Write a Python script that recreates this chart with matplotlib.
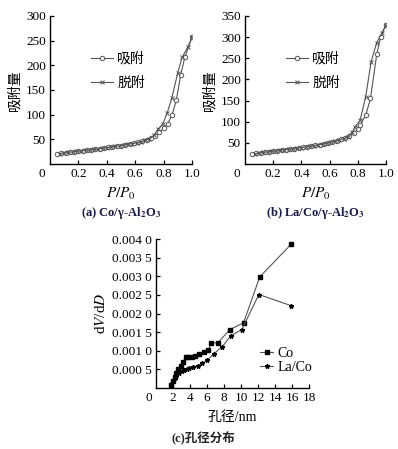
import matplotlib as mpl
mpl.use('Agg')
import matplotlib.pyplot as plt

plt.rcParams['font.family'] = ['Liberation Serif', 'Noto Sans CJK SC', 'DejaVu Sans']
plt.rcParams['mathtext.fontset'] = 'stix'

# (a) Co/γ-Al2O3 isotherm
a_ads_x = [0.05, 0.08, 0.11, 0.14, 0.17, 0.20, 0.23, 0.26, 0.29, 0.32, 0.35, 0.38, 0.41, 0.44, 0.47, 0.50,
           0.53, 0.56, 0.59, 0.62, 0.65, 0.68, 0.71, 0.74, 0.77, 0.80, 0.83, 0.86, 0.89, 0.92, 0.95, 1.0]
a_ads_y = [20, 22, 23, 24, 25, 26, 27, 28, 29, 30, 31, 32.5, 33.5, 35, 36, 37.5,
           39, 40.5, 42, 44, 46, 49, 52, 57, 64, 72, 82, 100, 130, 180, 217, 257]
a_des_x = [0.07, 0.10, 0.13, 0.16, 0.19, 0.22, 0.25, 0.28, 0.31, 0.34, 0.37, 0.40, 0.43, 0.46, 0.49, 0.52,
           0.55, 0.58, 0.61, 0.64, 0.67, 0.70, 0.73, 0.76, 0.795, 0.825, 0.857, 0.90, 0.93, 0.97, 1.0]
a_des_y = [21, 22.5, 23.5, 24.5, 25.5, 26.5, 27.5, 28.5, 29.5, 30.5, 32, 33, 34.5, 35.5, 37, 38.5,
           40, 41.5, 43, 45, 48, 51, 58, 70, 82, 103, 133, 185, 216, 237, 257]

# (b) La/Co/γ-Al2O3 isotherm
b_ads_x = [0.05, 0.08, 0.11, 0.14, 0.17, 0.20, 0.23, 0.26, 0.29, 0.32, 0.35, 0.38, 0.41, 0.44, 0.47, 0.50,
           0.53, 0.56, 0.59, 0.62, 0.65, 0.68, 0.71, 0.74, 0.77, 0.80, 0.816, 0.856, 0.89, 0.934, 0.962, 1.0]
b_ads_y = [23, 25, 26.5, 28, 29, 30.5, 31.5, 33, 34, 35, 36.5, 38, 39.5, 41, 42.5, 44,
           46, 48, 50, 52.5, 55, 58, 62, 67, 73, 82, 92, 115, 155, 259, 301, 329]
b_des_x = [0.07, 0.10, 0.13, 0.16, 0.19, 0.22, 0.25, 0.28, 0.31, 0.34, 0.37, 0.40, 0.43, 0.46, 0.49, 0.52,
           0.55, 0.58, 0.61, 0.64, 0.67, 0.70, 0.73, 0.76, 0.78, 0.816, 0.856, 0.894, 0.934, 0.97, 1.0]
b_des_y = [24, 26, 27.5, 28.5, 30, 31, 32, 33.5, 34.5, 36, 37, 38.5, 40, 42, 43.5, 45,
           47, 49, 51, 54, 57, 60, 65, 75, 88, 103, 159, 241, 287, 309, 329]

# (c) pore size distribution
co_x = [1.8, 2.0, 2.2, 2.4, 2.6, 2.9, 3.2, 3.5, 3.8, 4.2, 4.6, 5.1, 5.6, 6.1, 6.5, 7.3, 8.7, 10.3, 12.2, 15.9]
co_y = [0.00008, 0.00020, 0.00030, 0.00040, 0.00052, 0.00060, 0.00070, 0.00084, 0.00082, 0.00083,
        0.00087, 0.00091, 0.00096, 0.00101, 0.00120, 0.00122, 0.00157, 0.00175, 0.00298, 0.00386]
laco_x = [1.8, 2.0, 2.2, 2.4, 2.7, 3.0, 3.3, 3.6, 3.9, 4.4, 4.9, 5.4, 6.0, 6.8, 7.8, 8.8, 10.1, 12.1, 15.9]
laco_y = [0.00010, 0.00018, 0.00026, 0.00033, 0.00040, 0.00045, 0.00049, 0.00052, 0.00055, 0.00057,
          0.00060, 0.00066, 0.00074, 0.00092, 0.00111, 0.00140, 0.00157, 0.00251, 0.00221]

c_ytick_vals = [0.0005, 0.0010, 0.0015, 0.0020, 0.0025, 0.0030, 0.0035, 0.0040]
c_ytick_labels = ['0.000 5', '0.001 0', '0.001 5', '0.002 0', '0.002 5', '0.003 0', '0.003 5', '0.004 0']

W, H = 398, 449
fig = plt.figure(figsize=(W / 100, H / 100), dpi=100)
fig.patch.set_facecolor('white')

line_col = '#555555'
cap_col = '#1a1a48'
fs = 9.5


def px_axes(left, top, right, bottom):
    return fig.add_axes([left / W, 1 - bottom / H, (right - left) / W, (bottom - top) / H])


def style(ax):
    for s in ['top', 'right']:
        ax.spines[s].set_visible(False)
    for s in ['left', 'bottom']:
        ax.spines[s].set_linewidth(1.0)
    ax.tick_params(direction='in', length=3, width=0.9, labelsize=fs, pad=3)


def iso_panel(ax, ax_x, ax_y, de_x, de_y, ymax, caption):
    ax.plot(ax_x, ax_y, color=line_col, lw=0.8, marker='o', ms=3.2, mfc='white', mec=line_col, mew=0.7, label='吸附')
    ax.plot(de_x, de_y, color=line_col, lw=0.8, marker='x', ms=3.2, mec=line_col, mew=0.7, label='脱附')
    ax.set_xlim(0, 1.0)
    ax.set_ylim(0, ymax)
    ax.set_xticks([0.2, 0.4, 0.6, 0.8, 1.0])
    ax.set_xticklabels(['0.2', '0.4', '0.6', '0.8', '1.0'])
    ax.set_yticks(list(range(50, ymax + 1, 50)))
    style(ax)
    ax.annotate('0', xy=(0, 0), xycoords='axes fraction', xytext=(-6, -3), textcoords='offset points',
                ha='center', va='top', fontsize=fs)
    ax.set_xlabel('$P/P_0$', fontsize=11, labelpad=4)
    ax.set_ylabel('吸附量', fontsize=10, labelpad=3)
    ax.legend(loc='upper left', bbox_to_anchor=(0.2, 0.84), frameon=False, fontsize=10,
              handlelength=1.6, handletextpad=0.3, labelspacing=0.8)
    ax.text(0.5, -0.33, caption, transform=ax.transAxes, ha='center', va='center',
            fontsize=9, fontweight='bold', color=cap_col)


ax1 = px_axes(50, 16, 192, 164)
iso_panel(ax1, a_ads_x, a_ads_y, a_des_x, a_des_y, 300, r'(a) Co/γ-Al$_\mathbf{2}$O$_\mathbf{3}$')

ax2 = px_axes(245, 16, 386, 164)
iso_panel(ax2, b_ads_x, b_ads_y, b_des_x, b_des_y, 350, r'(b) La/Co/γ-Al$_\mathbf{2}$O$_\mathbf{3}$')

ax3 = px_axes(156, 239, 309, 388)
ax3.plot(co_x, co_y, color=line_col, lw=0.8, marker='s', ms=2.6, mfc='black', mec='black', label='Co')
ax3.plot(laco_x, laco_y, color=line_col, lw=0.8, marker='*', ms=3.3, mfc='black', mec='black', label='La/Co')
ax3.set_xlim(0, 18)
ax3.set_ylim(0, 0.004)
ax3.set_xticks(list(range(2, 19, 2)))
ax3.set_yticks(c_ytick_vals)
ax3.set_yticklabels(c_ytick_labels)
style(ax3)
ax3.annotate('0', xy=(0, 0), xycoords='axes fraction', xytext=(-5, -3), textcoords='offset points',
             ha='center', va='top', fontsize=fs)
ax3.set_xlabel('孔径/nm', fontsize=10, labelpad=5)
ax3.set_ylabel('d$V$/d$D$', fontsize=11, labelpad=3)
ax3.legend(loc='lower right', bbox_to_anchor=(1.1, 0.01), frameon=False, fontsize=10,
           handlelength=0.9, handletextpad=0.3, labelspacing=0.05)
ax3.text(0.31, -0.34, '(c)孔径分布', transform=ax3.transAxes, ha='center', va='center',
         fontsize=9, fontweight='bold', color='#222222')

fig.savefig('out.png', dpi=100)
